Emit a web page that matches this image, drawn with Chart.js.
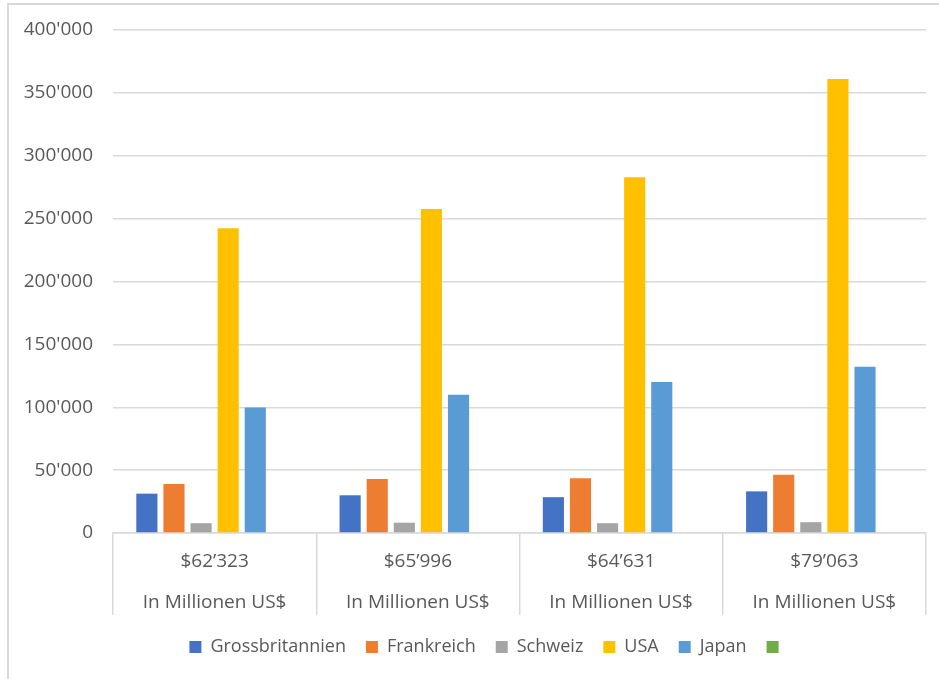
<!DOCTYPE html>
<html lang="de">
<head>
    <meta charset="UTF-8">
    <title>Vergleich in Millionen US$</title>
    <script src="https://cdn.jsdelivr.net/npm/chart.js"></script>
    <style>
        body {
            margin: 0;
            background: #fff;
            overflow: hidden;
            font-family: "Open Sans", sans-serif;
        }
        .container {
            position: absolute;
            left: 7px;
            top: 3px;
            width: 972px;
            height: 674px;
            border-top: 2px solid #d9d9d9;
            border-left: 2px solid #d9d9d9;
        }
    </style>
</head>
<body>
    <div class="container">
        <canvas id="laenderChart"></canvas>
    </div>
    <script>
        // Kategorien: Betrag + Einheit (zweizeilig)
        const betraege = ['$62’323', '$65’996', '$64’631', '$79’063'];
        const einheit = 'In Millionen US$';

        const grossbritannien = [31300, 30000, 28500, 33100];
        const frankreich = [38900, 43000, 43500, 46400];
        const schweiz = [7800, 8200, 7800, 8600];
        const usa = [242300, 257600, 283000, 361000];
        const japan = [99800, 110000, 120000, 132200];
        const leer = [null, null, null, null];

        const yTicks = [0, 50000, 100000, 150000, 200000, 250000, 300000, 350000, 400000];

        const grau = '#d9d9d9';
        const textFarbe = '#595959';

        // Tausendertrennzeichen wie 400'000
        function format(wert) {
            return String(wert).replace(/\B(?=(\d{3})+(?!\d))/g, "'");
        }

        const ctx = document.getElementById('laenderChart').getContext('2d');
        new Chart(ctx, {
            type: 'bar',
            data: {
                labels: betraege.map(b => [b, einheit]),
                datasets: [
                    { label: 'Grossbritannien', data: grossbritannien, backgroundColor: '#4472C4' },
                    { label: 'Frankreich', data: frankreich, backgroundColor: '#ED7D31' },
                    { label: 'Schweiz', data: schweiz, backgroundColor: '#A5A5A5' },
                    { label: 'USA', data: usa, backgroundColor: '#FFC000' },
                    { label: 'Japan', data: japan, backgroundColor: '#5B9BD5' },
                    { label: '', data: leer, backgroundColor: '#70AD47' }
                ]
            },
            options: {
                responsive: true,
                maintainAspectRatio: false,
                animation: false,
                categoryPercentage: 0.8,
                barPercentage: 0.78,
                borderWidth: 0,
                layout: {
                    padding: { left: 0, right: 13, top: 25, bottom: 13 }
                },
                plugins: {
                    tooltip: { enabled: false },
                    legend: {
                        position: 'bottom',
                        labels: {
                            color: textFarbe,
                            boxWidth: 12,
                            boxHeight: 12,
                            padding: 20,
                            font: { family: 'Open Sans', size: 18 }
                        }
                    }
                },
                scales: {
                    x: {
                        grid: {
                            display: true,
                            drawOnChartArea: false,
                            drawTicks: true,
                            tickLength: 82,
                            color: grau,
                            lineWidth: 1.5
                        },
                        border: { display: true, color: grau, width: 1.5 },
                        ticks: {
                            color: textFarbe,
                            padding: -73.5,
                            maxRotation: 0,
                            autoSkip: false,
                            font: { family: 'Open Sans', size: 19, lineHeight: '41px' }
                        },
                        afterFit: scale => { scale.height = 85; }
                    },
                    y: {
                        min: 0,
                        max: 400000,
                        afterBuildTicks: scale => { scale.ticks = yTicks.map(v => ({ value: v })); },
                        // unsichtbare Ticks halten die Beschriftung vom Diagramm weg
                        grid: { color: grau, lineWidth: 1.5, drawTicks: true, tickLength: 7, tickColor: 'rgba(0,0,0,0)' },
                        border: { display: false },
                        ticks: {
                            color: textFarbe,
                            padding: 13,
                            font: { family: 'Open Sans', size: 19 },
                            callback: v => format(v)
                        },
                        afterFit: scale => { scale.width = 104; }
                    },
                    // leerer Rand rechts, damit die Legende etwas nach rechts rückt
                    rand: {
                        position: 'right',
                        grid: { display: false },
                        border: { display: false },
                        ticks: { display: false },
                        afterFit: scale => { scale.width = 42; }
                    }
                }
            }
        });
    </script>
</body>
</html>
